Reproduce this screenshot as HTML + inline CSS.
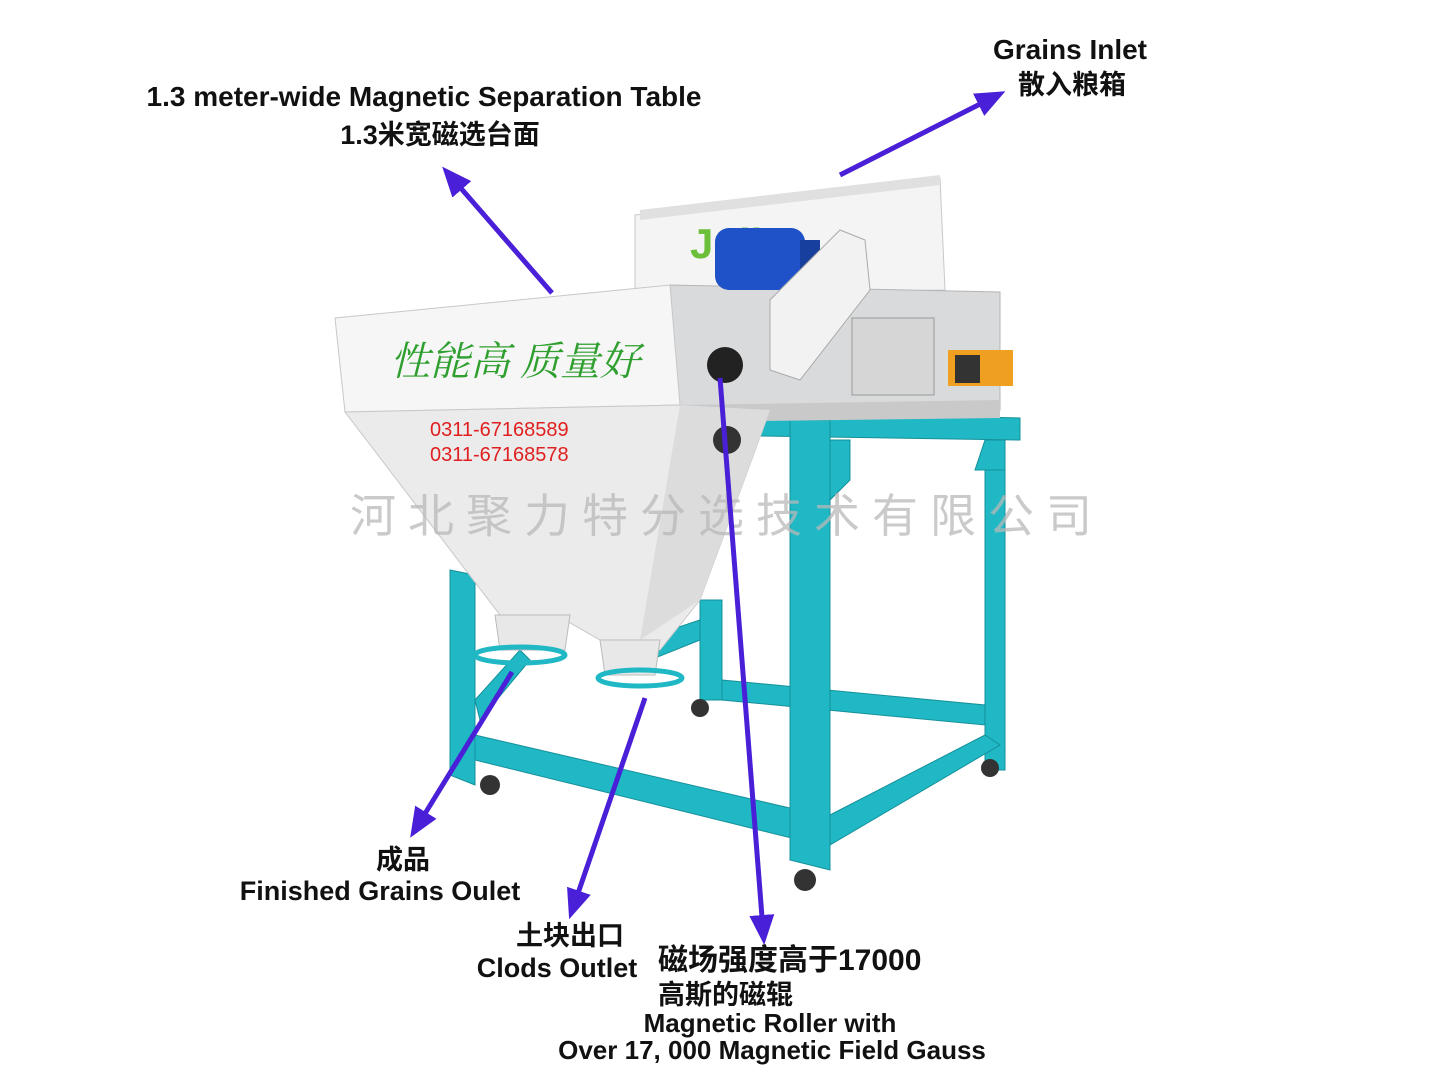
<!DOCTYPE html>
<html><head><meta charset="utf-8"><style>
html,body{margin:0;padding:0;background:#fff;}
svg{display:block;}
.lb{font-family:"Liberation Sans","Noto Sans CJK SC",sans-serif;font-weight:bold;fill:#111;}
</style></head><body>
<svg width="1434" height="1075" viewBox="0 0 1434 1075" xmlns="http://www.w3.org/2000/svg">
<defs>
<marker id="ah" markerWidth="6" markerHeight="5" refX="3" refY="2.5" orient="auto" markerUnits="strokeWidth">
<path d="M0,0 L6,2.5 L0,5 z" fill="#4a1fd8"/></marker>
</defs>
<rect width="1434" height="1075" fill="#fff"/>

<g fill="#1fb8c4" stroke="#16909a" stroke-width="1">
<polygon points="985,420 1005,420 1005,770 985,770"/>
<polygon points="700,600 722,600 722,700 700,700"/>
<polygon points="475,735 820,815 820,845 475,760"/>
<polygon points="830,815 985,735 1000,745 830,845"/>
<polygon points="722,680 985,705 985,725 722,700"/>
<polygon points="760,412 1020,418 1020,440 760,436"/>
<polygon points="790,420 830,420 830,870 790,860"/>
<polygon points="830,440 850,440 850,480 830,500"/>
<polygon points="450,570 475,575 475,785 450,775"/>
<polygon points="985,440 1005,440 1005,470 975,470"/>
<polygon points="475,700 520,650 530,660 480,720"/>
<polygon points="640,640 700,620 700,640 650,660"/>
</g>
<g fill="#333"><circle cx="490" cy="785" r="10"/><circle cx="805" cy="880" r="11"/><circle cx="990" cy="768" r="9"/><circle cx="700" cy="708" r="9"/></g>

<polygon points="635,215 940,178 945,290 635,295" fill="#f4f4f4" stroke="#c8c8c8"/>
<polygon points="640,210 940,175 940,185 640,220" fill="#e0e0e0"/>
<text x="690" y="258" font-family="Liberation Sans,sans-serif" font-weight="bold" font-size="42" fill="#6cbf3a">Julite</text>
<polygon points="670,285 1000,292 1000,410 680,410" fill="#d9dadc" stroke="#b5b5b5"/>
<polygon points="680,405 1000,400 1000,418 680,422" fill="#c9c9c9"/>
<polygon points="335,318 670,285 680,405 345,412" fill="#f6f6f6" stroke="#c8c8c8"/>
<polygon points="345,412 680,405 770,410 700,600 660,650 600,640 565,620 500,615" fill="#ebebeb" stroke="#c8c8c8"/>
<polygon points="680,405 770,410 700,600 640,640" fill="#dcdcdc"/>
<polygon points="495,615 570,615 565,650 500,650" fill="#e8e8e8" stroke="#bbb"/>
<polygon points="600,640 660,640 655,675 605,675" fill="#e8e8e8" stroke="#bbb"/>
<ellipse cx="520" cy="655" rx="45" ry="8" fill="none" stroke="#1fb8c4" stroke-width="5"/>
<ellipse cx="640" cy="678" rx="42" ry="8" fill="none" stroke="#1fb8c4" stroke-width="5"/>
<circle cx="725" cy="365" r="18" fill="#222"/>
<circle cx="727" cy="440" r="14" fill="#333"/>
<rect x="715" y="228" width="90" height="62" rx="14" fill="#1f52c8"/>
<rect x="800" y="240" width="20" height="45" fill="#163f9e"/>
<polygon points="770,300 840,230 865,240 870,290 800,380 770,370" fill="#f2f2f2" stroke="#aaa"/>
<rect x="852" y="318" width="82" height="77" fill="#d6d6d6" stroke="#999"/>
<rect x="948" y="350" width="65" height="36" fill="#f0a020"/>
<rect x="955" y="355" width="25" height="28" fill="#333"/>

<text x="390" y="375" font-family="Liberation Serif,'Noto Serif CJK SC',serif" font-style="italic" font-size="40" fill="#2fa02f">性能高 质量好</text>
<text x="430" y="436" font-family="Liberation Sans,sans-serif" font-size="20" fill="#e02020">0311-67168589</text>
<text x="430" y="461" font-family="Liberation Sans,sans-serif" font-size="20" fill="#e02020">0311-67168578</text>

<text x="350" y="532" font-family="'Noto Sans CJK SC',sans-serif" font-size="46" fill="#b8b8b8" fill-opacity="0.75" letter-spacing="12">河北聚力特分选技术有限公司</text>

<g stroke="#4a1fd8" stroke-width="5" marker-end="url(#ah)" fill="none">
<line x1="552" y1="293" x2="452" y2="178"/>
<line x1="840" y1="175" x2="992" y2="98"/>
<line x1="512" y1="672" x2="418" y2="825"/>
<line x1="645" y1="698" x2="574" y2="905"/>
<line x1="720" y1="378" x2="763" y2="930"/>
</g>

<text class="lb" x="424" y="106" font-size="28" text-anchor="middle">1.3 meter-wide Magnetic Separation Table</text>
<text class="lb" x="440" y="144" font-size="27" text-anchor="middle">1.3米宽磁选台面</text>
<text class="lb" x="1070" y="59" font-size="28" text-anchor="middle">Grains Inlet</text>
<text class="lb" x="1072" y="94" font-size="27" text-anchor="middle">散入粮箱</text>
<text class="lb" x="403" y="869" font-size="27" text-anchor="middle">成品</text>
<text class="lb" x="380" y="900" font-size="27" text-anchor="middle">Finished Grains Oulet</text>
<text class="lb" x="570" y="945" font-size="27" text-anchor="middle">土块出口</text>
<text class="lb" x="557" y="977" font-size="27" text-anchor="middle">Clods Outlet</text>
<text class="lb" x="658" y="970" font-size="30">磁场强度高于17000</text>
<text class="lb" x="658" y="1004" font-size="27">高斯的磁辊</text>
<text class="lb" x="770" y="1032" font-size="26" text-anchor="middle">Magnetic Roller with</text>
<text class="lb" x="772" y="1059" font-size="26" text-anchor="middle">Over 17, 000 Magnetic Field Gauss</text>
</svg>
</body></html>
